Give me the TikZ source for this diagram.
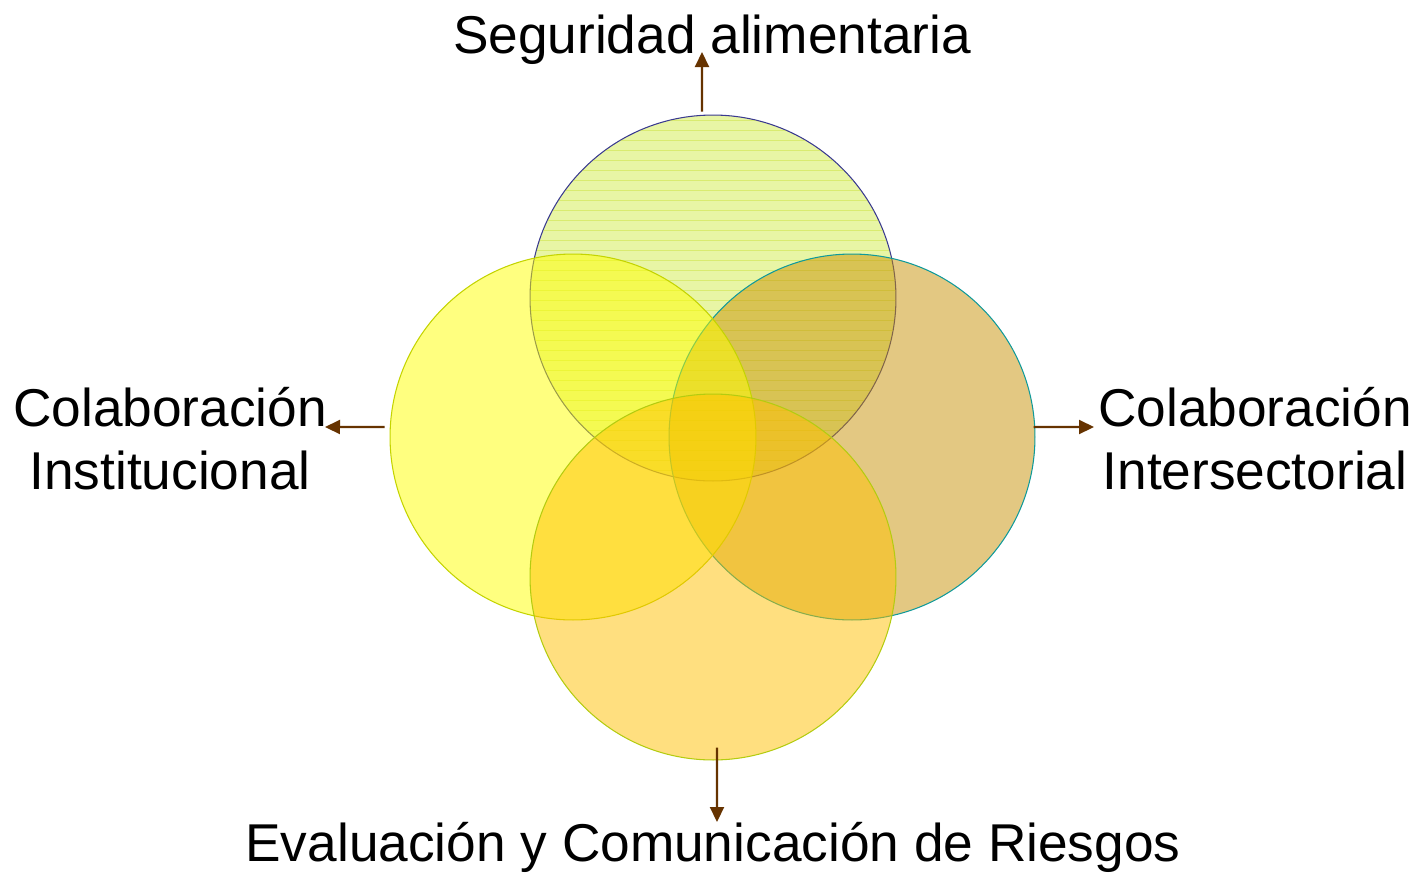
\documentclass[tikz,border=0pt]{standalone}
\usepackage{fontspec}
\setmainfont{Liberation Sans}
\usetikzlibrary{arrows.meta,positioning}
\definecolor{arrowbrown}{HTML}{663300}
\definecolor{segfill}{HTML}{D2EB4B}
\definecolor{segline}{HTML}{3A3A90}
\definecolor{segstripe}{HTML}{C8E030}
\definecolor{instfill}{HTML}{FFFF00}
\definecolor{instline}{HTML}{C4D400}
\definecolor{interfill}{HTML}{C89105}
\definecolor{interline}{HTML}{109A9A}
\definecolor{evalfill}{HTML}{FFC000}
\definecolor{evalline}{HTML}{B4CC10}

\tikzset{
  venn/.style={circle, minimum size=7.32cm, inner sep=0pt, line width=0.6pt, fill opacity=0.5},
  tag/.style={align=center, inner sep=0pt, text=black},
  outarrow/.style={-{Triangle[length=0.3cm,width=0.28cm]}, line width=1.2pt, draw=arrowbrown}
}

\begin{document}
\begin{tikzpicture}[x=0.02cm, y=-0.02cm, font=\fontsize{30.3}{35.8}\selectfont]

  \useasboundingbox (0,0) rectangle (1414,873);

  % circles
  \node[venn, draw=segline, fill=segfill] (seg) at (713,298) {};
  \begin{scope}
    \clip (713,298) circle[radius=3.65cm];
    \foreach \y in {120,130,...,480}
      \draw[segstripe, line width=0.5pt, opacity=0.45] (525,\y) -- (901,\y);
  \end{scope}
  \node[venn, draw=interline, fill=interfill] (inter) at (852,437) {};
  \node[venn, draw=instline, fill=instfill] (inst) at (573,437) {};
  \node[venn, draw=evalline, fill=evalfill] (eval) at (713,577) {};

  % labels
  \node[tag, anchor=base] (seg-t) at (712,53) {Seguridad alimentaria};
  \node[tag] (inst-t) at (170,439) {Colaboración\\Institucional};
  \node[tag] (inter-t) at (1255,439) {Colaboración\\Intersectorial};
  \node[tag, anchor=base] (eval-t) at (713,861) {Evaluación y Comunicación de Riesgos};

  \coordinate (seg-a) at (702,52);
  \coordinate (inst-a) at (325,427);
  \coordinate (inter-a) at (1094,427);
  \coordinate (eval-a) at (717,822);

  \draw[outarrow] ([xshift=-0.22cm,yshift=0.06cm]seg.north) -- (seg-a);
  \draw[outarrow] ([xshift=-0.1cm,yshift=0.2cm]inst.west) -- (inst-a);
  \draw[outarrow] ([xshift=-0.04cm,yshift=0.2cm]inter.east) -- (inter-a);
  \draw[outarrow] ([xshift=0.08cm,yshift=0.26cm]eval.south) -- (eval-a);

\end{tikzpicture}
\end{document}
